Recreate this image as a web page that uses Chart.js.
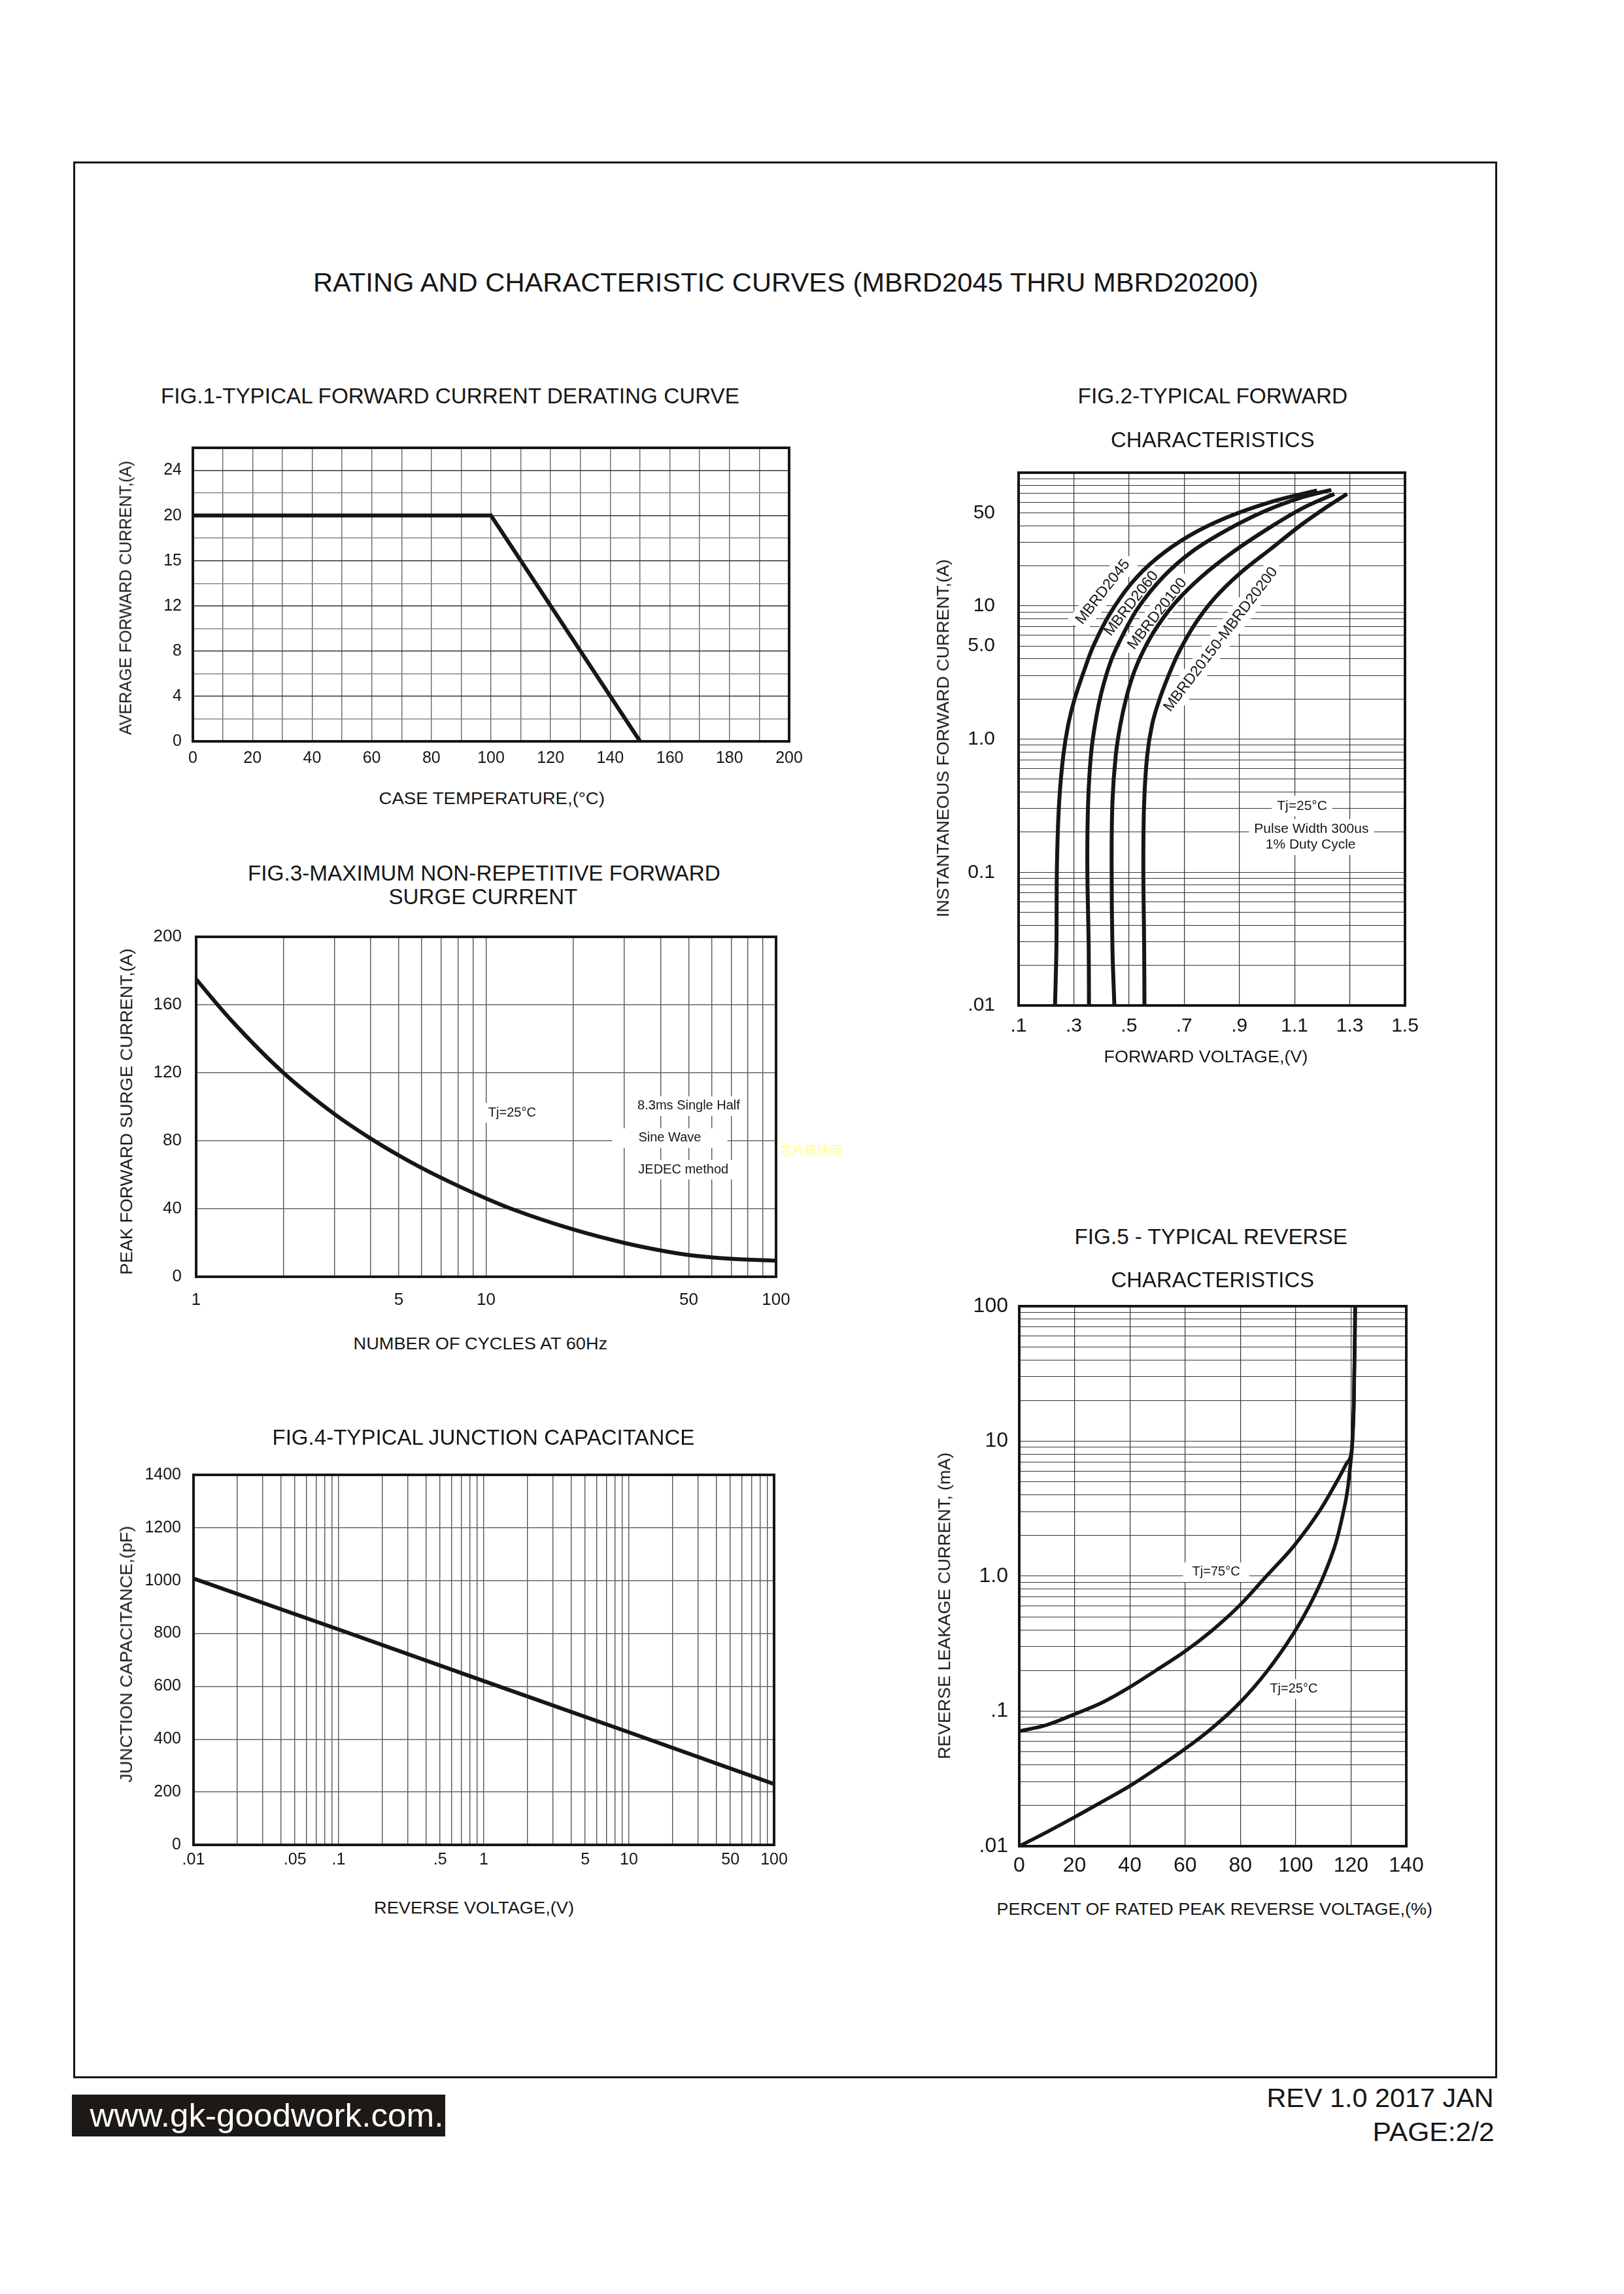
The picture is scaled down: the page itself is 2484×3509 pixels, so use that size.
<!DOCTYPE html>
<html>
<head>
<meta charset="utf-8">
<title>MBRD2045 thru MBRD20200 - rating and characteristic curves</title>
<script src="https://cdn.jsdelivr.net/npm/chart.js@4.4.1/dist/chart.umd.min.js"></script>
<style>
  html, body { margin: 0; padding: 0; background: #fff; }
  #page { position: relative; width: 2484px; height: 3509px; background: #fff; overflow: hidden;
          font-family: 'Liberation Sans', Arial, Helvetica, sans-serif; }
  .frame { position: absolute; border: 3px solid #161616; box-sizing: border-box; }
  .txt { position: absolute; white-space: nowrap; line-height: 1; color: #161616; transform-origin: 50% 50%; }
  canvas { position: absolute; }
</style>
</head>
<body>
<div id="page">
  <div class="frame" style="left:112px;top:247px;width:2178px;height:2932px;"></div>
  <div style="position:absolute;left:110px;top:3204px;width:571px;height:64px;background:#1c1916;"></div>
  <canvas id="fig1"></canvas>
  <canvas id="fig2"></canvas>
  <canvas id="fig3"></canvas>
  <canvas id="fig4"></canvas>
  <canvas id="fig5"></canvas>
</div>
<script>
// ---------- data ----------

// Fig.1 derating curve
const fig1Temp = [0, 100, 150];
const fig1Current = [20, 20, 0];
const fig1XTicks = [0, 10, 20, 30, 40, 50, 60, 70, 80, 90, 100, 110, 120, 130, 140, 150, 160, 170, 180, 190, 200];
const fig1XLabelAt = [0, 20, 40, 60, 80, 100, 120, 140, 160, 180, 200];
const fig1XLabels = ['0', '20', '40', '60', '80', '100', '120', '140', '160', '180', '200'];
const fig1YTicks = [0, 2, 4, 6, 8, 10, 12, 14, 16, 18, 20, 22, 24, 26];
const fig1YLabelAt = [0, 4, 8, 12, 16, 20, 24];
const fig1YLabels = ['0', '4', '8', '12', '15', '20', '24'];   // printed that way on the sheet

// Fig.2 forward characteristics (V, A)
const fig2V2045 = [0.232, 0.237, 0.239, 0.247, 0.262, 0.280, 0.303, 0.337, 0.371, 0.429, 0.509, 0.601, 0.716, 0.854, 1.014, 1.181];
const fig2I2045 = [0.01, 0.027, 0.114, 0.336, 0.753, 1.29, 2.0, 3.25, 5.0, 8.6, 14.8, 22.8, 33.4, 46.1, 60.3, 73.6];
const fig2V2060 = [0.355, 0.354, 0.349, 0.352, 0.362, 0.377, 0.400, 0.434, 0.475, 0.532, 0.624, 0.727, 0.854, 0.991, 1.129, 1.233];
const fig2I2060 = [0.01, 0.027, 0.114, 0.336, 0.753, 1.29, 2.23, 3.83, 5.9, 9.6, 16.5, 25.4, 37, 51.3, 65.5, 74.2];
const fig2V20100 = [0.447, 0.440, 0.437, 0.440, 0.452, 0.469, 0.492, 0.520, 0.555, 0.601, 0.670, 0.762, 0.877, 1.014, 1.129, 1.244];
const fig2I20100 = [0.01, 0.027, 0.114, 0.336, 0.753, 1.29, 2.11, 3.25, 4.74, 6.93, 10.7, 16.5, 25.4, 39.2, 54.1, 69.2];
const fig2V20200 = [0.556, 0.555, 0.552, 0.555, 0.566, 0.584, 0.607, 0.641, 0.681, 0.739, 0.808, 0.900, 1.014, 1.129, 1.210, 1.290];
const fig2I20200 = [0.01, 0.027, 0.114, 0.336, 0.753, 1.29, 1.89, 2.92, 4.5, 7.3, 11.3, 17.4, 26.8, 41.3, 54.1, 69.2];
const fig2XTicks = [0.1, 0.3, 0.5, 0.7, 0.9, 1.1, 1.3, 1.5];
const fig2XLabels = ['.1', '.3', '.5', '.7', '.9', '1.1', '1.3', '1.5'];
const fig2YLabelAt = [0.01, 0.1, 1, 5, 10, 50];
const fig2YLabels = ['.01', '0.1', '1.0', '5.0', '10', '50'];

// Fig.3 surge current
const fig3Cycles = [1, 1.32, 2, 3, 4, 5, 6, 8, 10, 12.3, 20, 30, 40, 50, 70, 100];
const fig3Surge = [175, 151, 120, 95.7, 81.3, 71.4, 64, 53.5, 46.1, 39.8, 27.8, 19.9, 15.5, 12.8, 10.6, 9.5];
const fig3XLabelAt = [1, 5, 10, 50, 100];
const fig3XLabels = ['1', '5', '10', '50', '100'];
const fig3YTicks = [0, 40, 80, 120, 160, 200];
const fig3YLabels = ['0', '40', '80', '120', '160', '200'];

// Fig.4 junction capacitance
const fig4Voltage = [0.01, 0.1, 1, 10, 100];
const fig4Cap = [1008, 815, 620, 426, 230];
const fig4XLabelAt = [0.01, 0.05, 0.1, 0.5, 1, 5, 10, 50, 100];
const fig4XLabels = ['.01', '.05', '.1', '.5', '1', '5', '10', '50', '100'];
const fig4YTicks = [0, 200, 400, 600, 800, 1000, 1200, 1400];
const fig4YLabels = ['0', '200', '400', '600', '800', '1000', '1200', '1400'];

// Fig.5 reverse characteristics (% of VRRM, mA)
const fig5Pct75 = [0, 9.9, 20, 30.4, 39.8, 49.7, 59.6, 69.6, 79.5, 89.5, 99.4, 108.8, 115.2, 118.5, 120.2, 120.6, 121.0, 121.2, 121.4, 121.5];
const fig5Tj75 = [0.071, 0.079, 0.095, 0.117, 0.150, 0.202, 0.274, 0.394, 0.601, 1.006, 1.68, 3.08, 5.16, 6.9, 8.4, 11, 18, 33, 60, 100];
const fig5Pct25 = [0, 9.9, 20, 30.4, 39.8, 49.7, 59.6, 69.6, 79.5, 89.5, 99.4, 104.9, 110.1, 114.6, 117.1, 118.8, 119.8, 120.3, 120.6, 121.0, 121.2, 121.4, 121.5];
const fig5Tj25 = [0.010, 0.0127, 0.0164, 0.0216, 0.0278, 0.0377, 0.0519, 0.0746, 0.114, 0.196, 0.382, 0.601, 1.006, 1.79, 2.90, 4.43, 6.76, 8.6, 11, 18, 33, 60, 100];
const fig5XTicks = [0, 20, 40, 60, 80, 100, 120, 140];
const fig5XLabels = ['0', '20', '40', '60', '80', '100', '120', '140'];
const fig5YLabelAt = [0.01, 0.1, 1, 10, 100];
const fig5YLabels = ['.01', '.1', '1.0', '10', '100'];

// ---------- layout ----------
const FONT = "'Liberation Sans', Arial, Helvetica, sans-serif";
const CJK = "'Noto Sans CJK SC', sans-serif";
const INK = '#161616';
const M = { l: 120, r: 70, t: 40, b: 70 };   // canvas margin round each plot area

const PLOTS = {
    fig1: { x: 295, y: 685, w: 912, h: 449 },
    fig2: { x: 1558, y: 712, w: 591, h: 826 },
    fig3: { x: 300, y: 1433, w: 887, h: 520 },
    fig4: { x: 296, y: 2256, w: 888, h: 566 },
    fig5: { x: 1559, y: 1998, w: 592, h: 826 }
};

const TEXTS = [
    { t: 'RATING AND CHARACTERISTIC CURVES (MBRD2045 THRU MBRD20200)', x: 1202, y: 432, size: 41, w: 1446 },
    { t: 'FIG.1-TYPICAL FORWARD CURRENT DERATING CURVE', x: 688, y: 605, size: 33, w: 885 },
    { t: 'CASE  TEMPERATURE,(°C)', x: 752, y: 1221, size: 26.7, w: 345 },
    { t: 'AVERAGE FORWARD CURRENT,(A)', x: 192, y: 914, size: 25, w: 419, rot: -90 },
    { t: 'FIG.2-TYPICAL FORWARD', x: 1855, y: 605, size: 33, w: 413 },
    { t: 'CHARACTERISTICS', x: 1855, y: 672, size: 33, w: 312 },
    { t: 'FORWARD VOLTAGE,(V)', x: 1844, y: 1616, size: 26.7, w: 312 },
    { t: 'INSTANTANEOUS FORWARD CURRENT,(A)', x: 1442, y: 1129, size: 26.5, w: 548, rot: -90 },
    { t: 'FIG.3-MAXIMUM NON-REPETITIVE FORWARD', x: 740, y: 1335, size: 33, w: 723 },
    { t: 'SURGE CURRENT', x: 739, y: 1371, size: 33, w: 289 },
    { t: 'NUMBER OF CYCLES AT 60Hz', x: 735, y: 2055, size: 26.7, w: 389 },
    { t: 'PEAK FORWARD SURGE CURRENT,(A)', x: 193, y: 1700, size: 26.7, w: 499, rot: -90 },
    { t: 'FIG.4-TYPICAL JUNCTION CAPACITANCE', x: 739, y: 2198, size: 33, w: 646 },
    { t: 'REVERSE VOLTAGE,(V)', x: 725, y: 2918, size: 26.7, w: 306 },
    { t: 'JUNCTION CAPACITANCE,(pF)', x: 193, y: 2530, size: 26.7, w: 393, rot: -90 },
    { t: 'FIG.5 - TYPICAL REVERSE', x: 1852, y: 1891, size: 33, w: 417 },
    { t: 'CHARACTERISTICS', x: 1855, y: 1957, size: 33, w: 311 },
    { t: 'PERCENT OF RATED PEAK REVERSE VOLTAGE,(%)', x: 1857, y: 2920, size: 26.7, w: 666 },
    { t: 'REVERSE LEAKAGE CURRENT, (mA)', x: 1444, y: 2456, size: 26.7, w: 469, rot: -90 },
    { t: '芯片模块网', x: 1240, y: 1758, size: 19, w: 95, color: '#ffff8a', family: CJK },
    { t: 'www.gk-goodwork.com.', x: 408, y: 3236, size: 50, w: 541, color: '#ffffff' },
    { t: 'REV 1.0 2017 JAN', x: 2111, y: 3209, size: 41, w: 347 },
    { t: 'PAGE:2/2', x: 2192, y: 3261, size: 41, w: 186 }
];

// in-plot notes, placed in data units
const NOTES = {
    fig2: [
        { text: 'MBRD2045', x: 0.406, y: 12.7, rot: -52, size: 23 },
        { text: 'MBRD2060', x: 0.509, y: 10.4, rot: -52, size: 23 },
        { text: 'MBRD20100', x: 0.603, y: 8.7, rot: -52, size: 23 },
        { text: 'MBRD20150-MBRD20200', x: 0.833, y: 5.59, rot: -52.6, size: 23 },
        { text: 'Tj=25°C', x: 1.127, y: 0.314, size: 21 },
        { text: 'Pulse Width 300us', x: 1.161, y: 0.21, size: 21 },
        { text: '1% Duty Cycle', x: 1.158, y: 0.161, size: 21 }
    ],
    fig3: [
        { text: 'Tj=25°C', x: 12.3, y: 96.5, size: 20 },
        { text: '8.3ms Single Half', x: 50, y: 100.4, size: 20 },
        { text: 'Sine Wave', x: 43, y: 81.6, size: 20, padX: 40 },
        { text: 'JEDEC method', x: 47.9, y: 63, size: 20 }
    ],
    fig5: [
        { text: 'Tj=75°C', x: 71.2, y: 1.07, size: 20, padX: 14 },
        { text: 'Tj=25°C', x: 99.3, y: 0.146, size: 20 }
    ]
};

function logGrid(lo, hi) {
    const out = [];
    for (let e = lo; e < hi; e++) {
        for (let m = 1; m < 10; m++) out.push(+(m * Math.pow(10, e)).toPrecision(6));
    }
    out.push(Math.pow(10, hi));
    return out;
}

function lookup(at, labels, v) {
    for (let k = 0; k < at.length; k++) {
        if (Math.abs(at[k] - v) <= Math.abs(at[k]) * 1e-6 + 1e-9) return labels[k];
    }
    return '';
}

function series(xs, ys, extra) {
    return Object.assign({
        data: xs.map((x, k) => ({ x: x, y: ys[k] })),
        borderColor: INK,
        borderWidth: 6,
        pointRadius: 0,
        tension: 0.35,
        fill: false
    }, extra || {});
}

function axis(o) {
    const isX = o.pos === 'bottom';
    return {
        type: o.type,
        position: o.pos,
        min: o.min,
        max: o.max,
        afterBuildTicks: s => { s.ticks = o.grid.map(v => ({ value: v })); },
        afterFit: s => { if (isX) s.height = M.b; else s.width = M.l; },
        grid: { color: o.gridColor || '#555', lineWidth: o.lineWidth || 1.4, drawTicks: false },
        border: { display: false },
        ticks: {
            autoSkip: false,
            maxRotation: 0,
            minRotation: 0,
            padding: o.pad,
            color: INK,
            font: { family: FONT, size: o.size, lineHeight: 1 },
            callback: v => lookup(o.labelAt, o.labels, v)
        }
    };
}

const notesPlugin = {
    id: 'notes',
    beforeDatasetsDraw(chart) {
        const items = NOTES[chart.canvas.id] || [];
        const ctx = chart.ctx;
        items.forEach(n => {
            const px = chart.scales.x.getPixelForValue(n.x);
            const py = chart.scales.y.getPixelForValue(n.y);
            ctx.save();
            ctx.translate(px, py);
            if (n.rot) ctx.rotate(n.rot * Math.PI / 180);
            ctx.font = n.size + 'px ' + FONT;
            const w = ctx.measureText(n.text).width;
            const padX = n.padX || 8, padY = 3;
            ctx.fillStyle = '#fff';
            ctx.fillRect(-w / 2 - padX, -n.size * 0.6 - padY, w + 2 * padX, n.size * 1.2 + 2 * padY);
            ctx.fillStyle = INK;
            ctx.textAlign = 'center';
            ctx.textBaseline = 'middle';
            ctx.fillText(n.text, 0, 0);
            ctx.restore();
        });
    }
};

const framePlugin = {
    id: 'frame',
    afterDatasetsDraw(chart) {
        const a = chart.chartArea, c = chart.ctx;
        c.save();
        c.strokeStyle = INK;
        c.lineWidth = 4;
        c.strokeRect(a.left, a.top, a.right - a.left, a.bottom - a.top);
        c.restore();
    }
};

function buildChart(id, datasets, xAxis, yAxis) {
    const plot = PLOTS[id];
    const cv = document.getElementById(id);
    cv.width = plot.w + M.l + M.r;
    cv.height = plot.h + M.t + M.b;
    cv.style.left = (plot.x - M.l) + 'px';
    cv.style.top = (plot.y - M.t) + 'px';
    return new Chart(cv, {
        type: 'line',
        data: { datasets: datasets },
        options: {
            responsive: false,
            animation: false,
            events: [],
            layout: { padding: { left: 0, right: M.r, top: M.t, bottom: 0 } },
            plugins: { legend: { display: false }, tooltip: { enabled: false } },
            scales: { x: xAxis, y: yAxis }
        },
        plugins: [notesPlugin, framePlugin]
    });
}

function placeText(page, o) {
    const el = document.createElement('div');
    el.className = 'txt';
    el.textContent = o.t;
    el.style.fontSize = o.size + 'px';
    if (o.color) el.style.color = o.color;
    if (o.family) el.style.fontFamily = o.family;
    page.appendChild(el);
    const w0 = el.offsetWidth, h0 = el.offsetHeight;
    const sx = o.w ? o.w / w0 : 1;
    el.style.left = (o.x - w0 / 2) + 'px';
    el.style.top = (o.y - h0 / 2) + 'px';
    el.style.transform = 'rotate(' + (o.rot || 0) + 'deg) scaleX(' + sx + ')';
}

function initPage() {
    const page = document.getElementById('page');
    const smooth = { cubicInterpolationMode: 'monotone' };

    buildChart('fig1',
        [series(fig1Temp, fig1Current, { tension: 0, borderJoinStyle: 'miter' })],
        axis({ type: 'linear', pos: 'bottom', min: 0, max: 200, grid: fig1XTicks, labelAt: fig1XLabelAt, labels: fig1XLabels, size: 25, pad: 14, gridColor: '#666' }),
        axis({ type: 'linear', pos: 'left', min: 0, max: 26, grid: fig1YTicks, labelAt: fig1YLabelAt, labels: fig1YLabels, size: 25, pad: 17,
               gridColor: ctx => (ctx.tick && ctx.tick.value % 4 === 0) ? '#333' : '#8a8a8a' })
    );

    buildChart('fig2',
        [series(fig2V2045, fig2I2045), series(fig2V2060, fig2I2060), series(fig2V20100, fig2I20100), series(fig2V20200, fig2I20200)],
        axis({ type: 'linear', pos: 'bottom', min: 0.1, max: 1.5, grid: fig2XTicks, labelAt: fig2XTicks, labels: fig2XLabels, size: 30, pad: 17, gridColor: '#333', lineWidth: 1.2 }),
        axis({ type: 'logarithmic', pos: 'left', min: 0.01, max: 100, grid: logGrid(-2, 2), labelAt: fig2YLabelAt, labels: fig2YLabels, size: 30, pad: 36, gridColor: '#333', lineWidth: 1.1 })
    );

    buildChart('fig3',
        [series(fig3Cycles, fig3Surge, smooth)],
        axis({ type: 'logarithmic', pos: 'bottom', min: 1, max: 100, grid: logGrid(0, 2), labelAt: fig3XLabelAt, labels: fig3XLabels, size: 26, pad: 23, gridColor: '#555' }),
        axis({ type: 'linear', pos: 'left', min: 0, max: 200, grid: fig3YTicks, labelAt: fig3YTicks, labels: fig3YLabels, size: 26, pad: 22, gridColor: '#666' })
    );

    buildChart('fig4',
        [series(fig4Voltage, fig4Cap, { tension: 0 })],
        axis({ type: 'logarithmic', pos: 'bottom', min: 0.01, max: 100, grid: logGrid(-2, 2), labelAt: fig4XLabelAt, labels: fig4XLabels, size: 25, pad: 11, gridColor: '#555' }),
        axis({ type: 'linear', pos: 'left', min: 0, max: 1400, grid: fig4YTicks, labelAt: fig4YTicks, labels: fig4YLabels, size: 25, pad: 19, gridColor: '#666' })
    );

    buildChart('fig5',
        [series(fig5Pct75, fig5Tj75, Object.assign({ borderWidth: 5.5 }, smooth)),
         series(fig5Pct25, fig5Tj25, Object.assign({ borderWidth: 5.5 }, smooth))],
        axis({ type: 'linear', pos: 'bottom', min: 0, max: 140, grid: fig5XTicks, labelAt: fig5XTicks, labels: fig5XLabels, size: 32, pad: 14, gridColor: '#333', lineWidth: 1.2 }),
        axis({ type: 'logarithmic', pos: 'left', min: 0.01, max: 100, grid: logGrid(-2, 2), labelAt: fig5YLabelAt, labels: fig5YLabels, size: 32, pad: 17, gridColor: '#333', lineWidth: 1.1 })
    );

    TEXTS.forEach(o => placeText(page, o));
}

if (document.readyState === 'loading') {
    document.addEventListener('DOMContentLoaded', initPage);
} else {
    initPage();
}
</script>
</body>
</html>
